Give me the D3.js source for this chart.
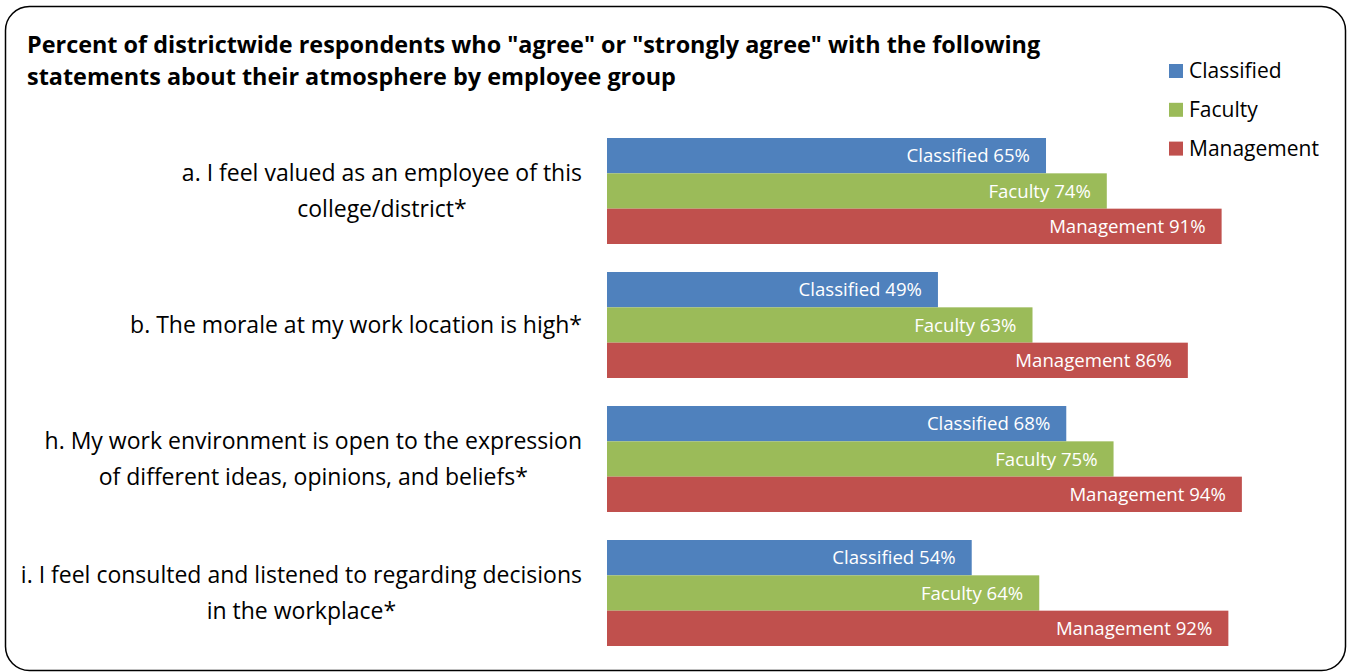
<!DOCTYPE html>
<html><head><meta charset="utf-8">
<script src="https://cdn.jsdelivr.net/npm/d3@7"></script>
<style>
html,body{margin:0;padding:0;background:#fff;}
svg{display:block;font-family:"Open Sans",Lato,sans-serif;}
</style></head>
<body><svg id="c" width="1349" height="672"></svg>
<script>
const titleLines = ['Percent of districtwide respondents who "agree" or "strongly agree" with the following',
                    'statements about their atmosphere by employee group'];
const categories = ["a. I feel valued as an employee of this\ncollege/district*",
                    "b. The morale at my work location is high*",
                    "h. My work environment is open to the expression\nof different ideas, opinions, and beliefs*",
                    "i. I feel consulted and listened to regarding decisions\nin the workplace*"];
const seriesNames = ["Classified","Faculty","Management"];
const classified = [65,49,68,54];
const faculty = [74,63,75,64];
const management = [91,86,94,92];
const colors = ["#4F81BD","#9BBB59","#C0504D"];

const svg = d3.select("#c");
svg.append("rect").attr("x",5.5).attr("y",6.5).attr("width",1340).attr("height",664)
  .attr("rx",24).attr("fill","#fff").attr("stroke","#000").attr("stroke-width",1.5);

svg.append("g").selectAll("text").data(titleLines).join("text")
  .attr("x",27).attr("y",(d,i)=>53+i*32).attr("font-size",23.4).attr("font-weight","bold")
  .attr("fill","#000").text(d=>d);

const x = d3.scaleLinear().domain([0,100]).range([607,1282.4]);
const y = d3.scaleBand().domain(categories).range([124,660]).paddingInner(0.209).paddingOuter(0.1045);
const ys = d3.scaleBand().domain(seriesNames).range([0,y.bandwidth()]);

const series = [classified,faculty,management];
const data = [];
categories.forEach((c,ci)=>seriesNames.forEach((s,si)=>data.push({c,s,si,v:series[si][ci]})));

const g = svg.append("g");
g.selectAll("rect").data(data).join("rect")
  .attr("x",x(0)).attr("y",d=>y(d.c)+ys(d.s)).attr("width",d=>x(d.v)-x(0)).attr("height",ys.bandwidth())
  .attr("fill",d=>colors[d.si]);
g.selectAll("text").data(data).join("text")
  .attr("x",d=>x(d.v)-16).attr("y",d=>y(d.c)+ys(d.s)+ys.bandwidth()/2).attr("dy","0.35em")
  .attr("text-anchor","end").attr("font-size",18.6).attr("fill","#fff")
  .text(d=>d.s+" "+d.v+"%");

const lab = svg.append("g");
categories.forEach(c=>{
  const lines = c.split("\n");
  const cy = y(c)+y.bandwidth()/2;
  const lh = 36;
  const t0 = lab.append("text").attr("x",582).attr("y",cy+(0-(lines.length-1)/2)*lh).attr("dy","0.35em")
      .attr("text-anchor","end").attr("font-size",23).attr("fill","#000").text(lines[0]);
  if (lines.length>1){
    const w = t0.node().getComputedTextLength();
    lines.slice(1).forEach((l,i)=>{
      lab.append("text").attr("x",582-w/2).attr("y",cy+(i+1-(lines.length-1)/2)*lh).attr("dy","0.35em")
        .attr("text-anchor","middle").attr("font-size",23).attr("fill","#000").text(l);
    });
  }
});

const leg = svg.append("g");
seriesNames.forEach((s,i)=>{
  const cy = 71 + i*38.8;
  leg.append("rect").attr("x",1169).attr("y",cy-7).attr("width",14).attr("height",14).attr("fill",colors[i]);
  leg.append("text").attr("x",1189).attr("y",cy).attr("dy","0.35em").attr("font-size",21).attr("fill","#000").text(s);
});
</script></body></html>
